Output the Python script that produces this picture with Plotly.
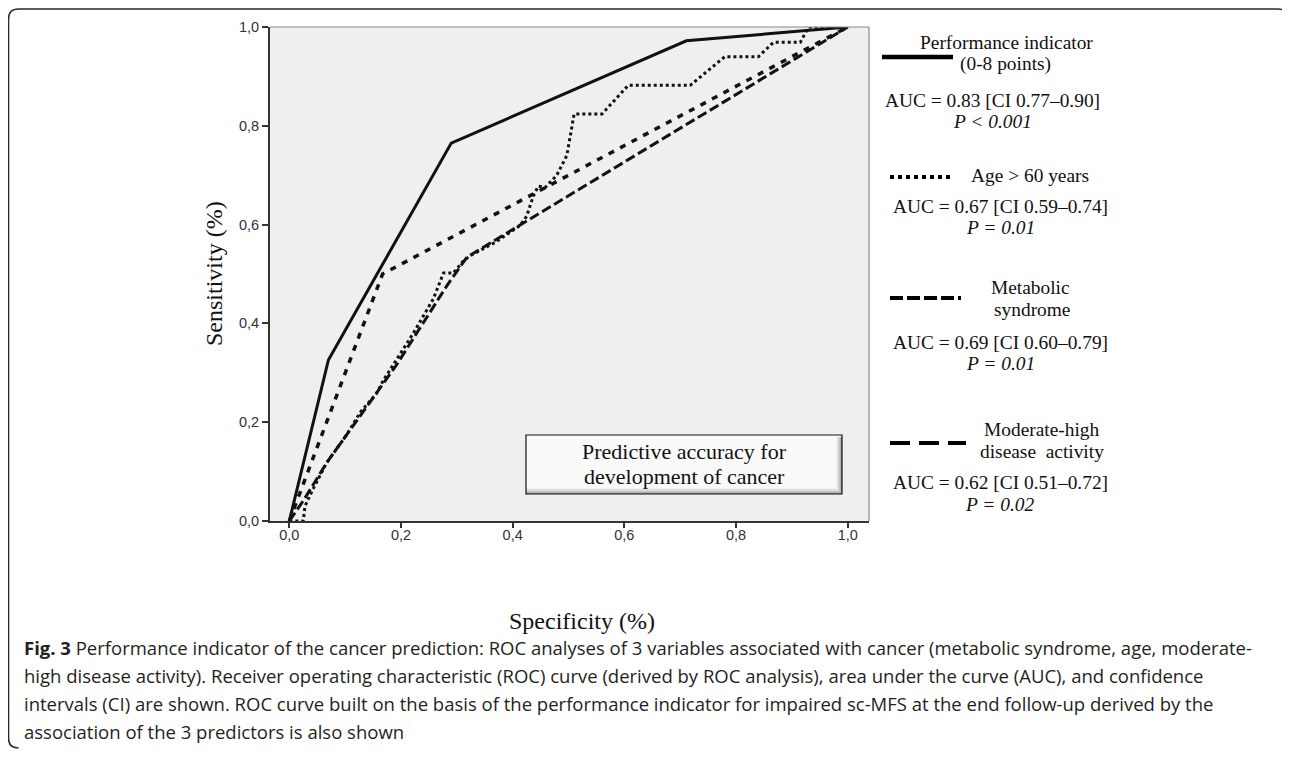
import plotly.graph_objects as go

# ---------------- data ----------------
fpr_perf = [0.0, 0.070, 0.290, 0.711, 1.0]
tpr_perf = [0.0, 0.326, 0.765, 0.972, 1.0]

fpr_age = [0.0, 0.025, 0.028, 0.043, 0.067, 0.103, 0.127, 0.156, 0.168, 0.222, 0.258, 0.276,
           0.294, 0.312, 0.324, 0.370, 0.413, 0.425, 0.437, 0.446, 0.458, 0.479, 0.497, 0.510,
           0.560, 0.607, 0.718, 0.780, 0.840, 0.867, 0.915, 0.930, 1.0]
tpr_age = [0.0, 0.0, 0.030, 0.066, 0.118, 0.175, 0.220, 0.258, 0.284, 0.380, 0.450, 0.502,
           0.502, 0.527, 0.537, 0.565, 0.598, 0.617, 0.658, 0.678, 0.675, 0.700, 0.740, 0.824,
           0.824, 0.882, 0.882, 0.940, 0.940, 0.969, 0.969, 1.0, 1.0]

fpr_met = [0.0, 0.167, 1.0]
tpr_met = [0.0, 0.500, 1.0]

fpr_mod = [0.0, 0.025, 0.067, 0.115, 0.192, 0.282, 0.318, 1.0]
tpr_mod = [0.0, 0.041, 0.118, 0.194, 0.316, 0.476, 0.534, 1.0]

tick_vals = [0.0, 0.2, 0.4, 0.6, 0.8, 1.0]
tick_text = ["0,0", "0,2", "0,4", "0,6", "0,8", "1,0"]

legend_titles = [["Performance indicator", "(0-8 points)"], ["Age &gt; 60 years"],
                 ["Metabolic", "syndrome"], ["Moderate-high", "disease&nbsp; activity"]]
auc_texts = ["AUC = 0.83 [CI 0.77–0.90]", "AUC = 0.67 [CI 0.59–0.74]",
             "AUC = 0.69 [CI 0.60–0.79]", "AUC = 0.62 [CI 0.51–0.72]"]
p_texts = ["P &lt; 0.001", "P = 0.01", "P = 0.01", "P = 0.02"]

caption_lines = [
    "<b>Fig. 3</b> Performance indicator of the cancer prediction: ROC analyses of 3 variables "
    "associated with cancer (metabolic syndrome, age, moderate-",
    "high disease activity). Receiver operating characteristic (ROC) curve (derived by ROC analysis), "
    "area under the curve (AUC), and confidence",
    "intervals (CI) are shown. ROC curve built on the basis of the performance indicator for impaired "
    "sc-MFS at the end follow-up derived by the",
    "association of the 3 predictors is also shown",
]

# ---------------- layout geometry ----------------
OFF = 8  # page body margin
W, H = 1282, 749
L, R, T, B = 262, 421, 19, 236
PW, PH = W - L - R, H - T - B


def px(x):  # screen x -> paper
    return (x - OFF - L) / PW


def py(y):  # screen y -> paper
    return (H - B - (y - OFF)) / PH


SERIF = "Liberation Serif, Times New Roman, serif"
SANS = "Liberation Sans, Arial, sans-serif"
INK = "#111111"

fig = go.Figure()
fig.add_trace(go.Scatter(x=fpr_mod, y=tpr_mod, mode="lines", name="Moderate-high disease activity",
                         line=dict(color=INK, width=3, dash="10px,4px")))
fig.add_trace(go.Scatter(x=fpr_met, y=tpr_met, mode="lines", name="Metabolic syndrome",
                         line=dict(color=INK, width=3.5, dash="6px,7px")))
fig.add_trace(go.Scatter(x=fpr_age, y=tpr_age, mode="lines", name="Age > 60 years",
                         line=dict(color=INK, width=3, dash="3px,3px")))
fig.add_trace(go.Scatter(x=fpr_perf, y=tpr_perf, mode="lines", name="Performance indicator",
                         line=dict(color=INK, width=3)))

shapes = []
# outer frame (rounded corners)
r = 10
fx0, fy0, fx1, fy1 = 8.5, 9, 1288, 748
pts = [("M", (fx1, fy0 + r)), ("Q", (fx1, fy0), (fx1 - r, fy0)), ("L", (fx0 + r, fy0)),
       ("Q", (fx0, fy0), (fx0, fy0 + r)), ("L", (fx0, fy1 - r)), ("Q", (fx0, fy1), (fx0 + r, fy1))]
path = ""
for seg in pts:
    path += seg[0] + " " + " ".join(f"{px(a):.5f},{py(b):.5f}" for a, b in seg[1:]) + " "
shapes.append(dict(type="path", xref="paper", yref="paper", path=path.strip(),
                   line=dict(color="#2a2a2a", width=1.6), layer="above"))
# top/right plot border
shapes.append(dict(type="line", xref="paper", yref="paper", x0=0, x1=1, y0=1, y1=1,
                   line=dict(color="#8a8a8a", width=1.2)))
shapes.append(dict(type="line", xref="paper", yref="paper", x0=1, x1=1, y0=0, y1=1,
                   line=dict(color="#8a8a8a", width=1.2)))

# Predictive accuracy box with shading (screen px)
bx0, bx1, by0, by1 = 526, 842, 435, 494
shapes.append(dict(type="rect", xref="paper", yref="paper", x0=px(bx0), x1=px(bx1),
                   y0=py(by1), y1=py(by0), fillcolor="#fafafa", line=dict(width=0), layer="above"))
grad = ["#f0f0f0", "#e4e4e4", "#d6d6d6", "#c6c6c6", "#b3b3b3", "#9c9c9c"]
for i, c in enumerate(grad):
    shapes.append(dict(type="rect", xref="paper", yref="paper", x0=px(bx0), x1=px(bx1),
                       y0=py(by1 - 6 + i), y1=py(by1 - 5 + i), fillcolor=c, line=dict(width=0),
                       layer="above"))
    shapes.append(dict(type="rect", xref="paper", yref="paper", x0=px(bx1 - 6 + i), x1=px(bx1 - 5 + i),
                       y0=py(by1 - 6 + i), y1=py(by0 + 2), fillcolor=c, line=dict(width=0),
                       layer="above"))
shapes.append(dict(type="rect", xref="paper", yref="paper", x0=px(bx0), x1=px(bx1),
                   y0=py(by1), y1=py(by0), fillcolor="rgba(0,0,0,0)",
                   line=dict(color="#111111", width=1.2), layer="above"))

# legend samples
samples = [(882, 953, 57, "solid", 4.3), (890, 953, 177, "4px,4px", 4),
           (890, 961, 298, "13px,4px", 4), (890, 966, 443, "20px,9px", 4)]
for x0, x1, yy, d, w in samples:
    shapes.append(dict(type="line", xref="paper", yref="paper", x0=px(x0), x1=px(x1),
                       y0=py(yy), y1=py(yy), line=dict(color="#000000", width=w, dash=d)))

annotations = []


def add_text(text, x, y, size, font=SERIF, xanchor="center", yanchor="middle", color="#111111",
             align="center", textangle=0):
    annotations.append(dict(text=text, x=px(x), y=py(y), xref="paper", yref="paper",
                            showarrow=False, xanchor=xanchor, yanchor=yanchor, align=align,
                            textangle=textangle, font=dict(family=font, size=size, color=color)))


LS = 19.4
# legend titles
add_text(legend_titles[0][0], 1006, 42, LS)
add_text(legend_titles[0][1], 1005, 64, LS)
add_text(legend_titles[1][0], 1030, 175.5, LS)
add_text(legend_titles[2][0], 1030, 287, LS)
add_text(legend_titles[2][1], 1032, 309, LS)
add_text(legend_titles[3][0], 1042, 429.5, LS)
add_text(legend_titles[3][1], 1042, 451.5, LS)
auc_pos = [(992, 100, 122), (1000, 206, 227), (1000, 342, 363), (1000, 482, 504)]
for (cx, ya, yp), a, p in zip(auc_pos, auc_texts, p_texts):
    add_text(a, cx, ya, LS)
    add_text(f"<i>{p}</i>", cx, yp, LS)

# box text
add_text("Predictive accuracy for", 684, 451.5, 22)
add_text("development of cancer", 684, 476.5, 22)

# axis titles
add_text("Specificity (%)", 582, 621, 24)
add_text("Sensitivity (%)", 214, 274, 24, textangle=-90)

# caption
for i, line in enumerate(caption_lines):
    add_text(line, 22, 647 + 28 * i, 18.5, font="Open Sans, Noto Sans, sans-serif",
             xanchor="left", align="left", color="#231f20")

fig.update_layout(
    width=W, height=H,
    margin=dict(l=L, r=R, t=T, b=B, pad=0),
    paper_bgcolor="white", plot_bgcolor="#efefef",
    showlegend=False, hovermode=False,
    shapes=shapes, annotations=annotations,
    xaxis=dict(range=[-0.0346, 1.0381], tickvals=tick_vals, ticktext=tick_text,
               showgrid=False, zeroline=False, showline=True, linecolor="#333333", linewidth=2,
               ticks="outside", ticklen=5, tickwidth=1.5, tickcolor="#333333",
               ticklabelstandoff=-5,
               tickfont=dict(family=SANS, size=14.5, color="#333333")),
    yaxis=dict(range=[0, 1], tickvals=tick_vals, ticktext=tick_text,
               showgrid=False, zeroline=False, showline=True, linecolor="#333333", linewidth=2,
               ticks="outside", ticklen=6, tickwidth=1.5, tickcolor="#333333",
               tickfont=dict(family=SANS, size=14.5, color="#333333")),
)

fig.write_html("out.html")
